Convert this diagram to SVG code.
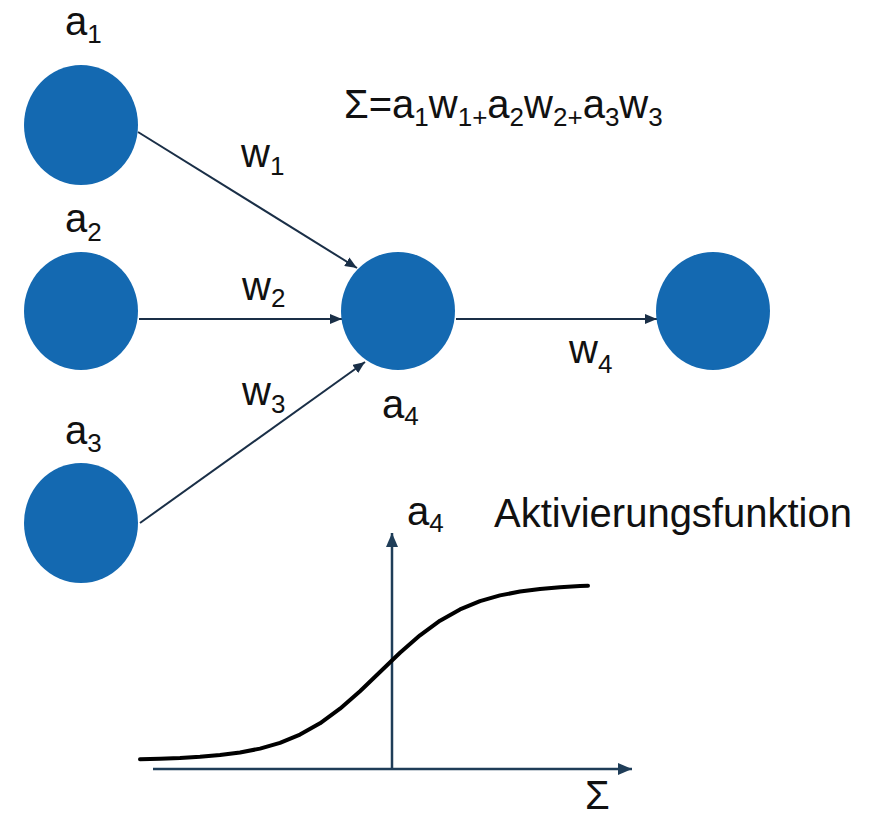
<svg xmlns="http://www.w3.org/2000/svg" width="869" height="819" viewBox="0 0 869 819">
<style>
.node{fill:#1469B1}
.lbl{font-family:"Liberation Sans",Arial,sans-serif;font-size:40px;fill:#111}
.sub{font-size:26px}
.conn{stroke:#1a2f47;stroke-width:2;fill:none}
.axis{stroke:#1f3d58;stroke-width:2.5;fill:none}
</style>
<defs>
<marker id="ah" viewBox="0 0 12 10" refX="12" refY="5" markerWidth="12" markerHeight="10" markerUnits="userSpaceOnUse" orient="auto">
<path d="M0,0 L12,5 L0,10 z" fill="#1a2f47"/>
</marker>
<marker id="ax" viewBox="0 0 14 12" refX="14" refY="6" markerWidth="14" markerHeight="12" markerUnits="userSpaceOnUse" orient="auto">
<path d="M0,0 L14,6 L0,12 z" fill="#1f3d58"/>
</marker>
</defs>
<rect width="869" height="819" fill="#fff"/>
<g id="connectors">
<line class="conn" x1="138" y1="132" x2="357" y2="268" marker-end="url(#ah)"/>
<line class="conn" x1="139" y1="319" x2="342" y2="319" marker-end="url(#ah)"/>
<line class="conn" x1="140" y1="523" x2="365" y2="362" marker-end="url(#ah)"/>
<line class="conn" x1="456" y1="319" x2="657" y2="319" marker-end="url(#ah)"/>
</g>
<g id="node-a1"><ellipse class="node" cx="81" cy="125" rx="57" ry="60"/><text class="lbl" x="65" y="35">a<tspan class="sub" dy="8">1</tspan></text></g>
<g id="node-a2"><ellipse class="node" cx="81" cy="311" rx="57" ry="59"/><text class="lbl" x="65" y="232">a<tspan class="sub" dy="9">2</tspan></text></g>
<g id="node-a3"><ellipse class="node" cx="81" cy="523" rx="57" ry="60"/><text class="lbl" x="65" y="444">a<tspan class="sub" dy="8">3</tspan></text></g>
<g id="node-a4"><ellipse class="node" cx="398" cy="311" rx="57" ry="59"/><text class="lbl" x="382" y="418">a<tspan class="sub" dy="7">4</tspan></text></g>
<g id="node-out"><ellipse class="node" cx="713" cy="311" rx="57" ry="59"/></g>
<g id="weights">
<text class="lbl" x="241" y="167">w<tspan class="sub" dy="8">1</tspan></text>
<text class="lbl" x="242" y="300">w<tspan class="sub" dy="7">2</tspan></text>
<text class="lbl" x="242" y="405">w<tspan class="sub" dy="8">3</tspan></text>
<text class="lbl" x="569" y="363">w<tspan class="sub" dy="10">4</tspan></text>
</g>
<g id="formula">
<text class="lbl" x="344" y="118">Σ=a<tspan class="sub" dy="8">1</tspan><tspan dy="-8">w</tspan><tspan class="sub" dy="8">1+</tspan><tspan dy="-8">a</tspan><tspan class="sub" dy="8">2</tspan><tspan dy="-8">w</tspan><tspan class="sub" dy="8">2+</tspan><tspan dy="-8">a</tspan><tspan class="sub" dy="8">3</tspan><tspan dy="-8">w</tspan><tspan class="sub" dy="8">3</tspan></text>
</g>
<g id="chart">
<line class="axis" x1="153" y1="769" x2="632" y2="769" marker-end="url(#ax)"/>
<line class="axis" x1="392" y1="769" x2="392" y2="533" marker-end="url(#ax)"/>
<polyline points="140,759.2 160,758.7 180,758 200,756.8 220,755.1 240,752.5 260,748.6 280,742.8 300,734.6 320,723.3 340,708.7 360,691.2 380,672 400,652.8 420,635.3 440,620.7 460,609.4 480,601.2 500,595.4 520,591.5 540,588.9 560,587.2 580,586 588,585.7" stroke="#000" stroke-width="4" fill="none" stroke-linecap="round" stroke-linejoin="round"/>
<text class="lbl" x="407" y="525">a<tspan class="sub" dy="7">4</tspan></text>
<text class="lbl" x="494" y="527">Aktivierungsfunktion</text>
<text class="lbl" x="585" y="809">Σ</text>
</g>
</svg>
